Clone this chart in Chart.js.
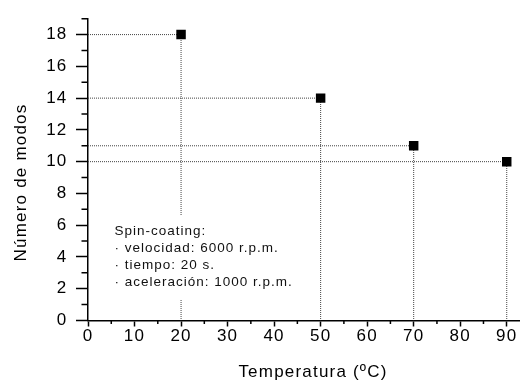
<!DOCTYPE html>
<html><head><meta charset="utf-8">
<script src="https://cdn.jsdelivr.net/npm/chart.js@4"></script>
<style>html,body{margin:0;padding:0;background:#fff;} canvas{display:block;}</style>
</head><body>
<canvas id="c" width="526" height="380"></canvas>
<script>
const temperatures = [20, 50, 70, 90];
const modes = [18, 14, 11, 10];
const xTickValues = [0, 10, 20, 30, 40, 50, 60, 70, 80, 90];
const xMinorTickValues = [5, 15, 25, 35, 45, 55, 65, 75, 85];
const yTickValues = [0, 2, 4, 6, 8, 10, 12, 14, 16, 18];
const yMinorTickValues = [1, 3, 5, 7, 9, 11, 13, 15, 17, 19];
const xTitle = 'Temperatura (ºC)';
const yTitle = 'Número de modos';
const noteLines = ['Spin-coating:', '· velocidad: 6000 r.p.m.', '· tiempo: 20 s.', '· aceleración: 1000 r.p.m.'];

const FONT = '"Liberation Sans", Arial, Helvetica, sans-serif';

const points = temperatures.map((t, i) => ({x: t, y: modes[i]}));
const dropStyle = {
  showLine: true, borderColor: '#444', borderWidth: 1, borderDash: [1, 1],
  pointRadius: 0, pointHoverRadius: 0, fill: false, order: 2
};
const hLines = temperatures.map((t, i) => Object.assign({
  data: [{x: 0, y: modes[i]}, {x: t, y: modes[i]}]
}, dropStyle));
const vLines = temperatures.map((t, i) => Object.assign({
  data: [{x: t, y: 0}, {x: t, y: modes[i]}]
}, dropStyle, {borderDashOffset: 0.5}));

const extrasPlugin = {
  id: 'extras',
  beforeDraw(chart) {
    chart.ctx.letterSpacing = '1.2px';
  },
  afterDatasetsDraw(chart) {
    const ctx = chart.ctx;
    ctx.save();
    ctx.fillStyle = '#fff';
    ctx.fillRect(108, 215, 200, 84);
    ctx.letterSpacing = '1px';
    ctx.font = '13.5px ' + FONT;
    ctx.fillStyle = '#111';
    ctx.textAlign = 'left';
    ctx.textBaseline = 'alphabetic';
    noteLines.forEach((s, i) => ctx.fillText(s, 114.5, 234.5 + i * 17.2));
    ctx.restore();
  },
  afterDraw(chart) {
    const ctx = chart.ctx;
    const xs = chart.scales.x, ys = chart.scales.y, ca = chart.chartArea;
    ctx.save();
    ctx.letterSpacing = '0px';
    ctx.strokeStyle = '#000';
    ctx.lineWidth = 1.5;
    ctx.beginPath();
    yMinorTickValues.forEach(v => {
      const py = ys.getPixelForValue(v);
      ctx.moveTo(ca.left - 6.5, py); ctx.lineTo(ca.left, py);
    });
    xMinorTickValues.forEach(v => {
      const px = xs.getPixelForValue(v);
      ctx.moveTo(px, ca.bottom); ctx.lineTo(px, ca.bottom + 3.5);
    });
    ctx.stroke();
    ctx.letterSpacing = '1.2px';
    ctx.font = '17px ' + FONT;
    ctx.fillStyle = '#000';
    ctx.textAlign = 'center';
    ctx.textBaseline = 'alphabetic';
    ctx.fillText(xTitle, 313, 377);
    ctx.translate(26, 182.5);
    ctx.rotate(-Math.PI / 2);
    ctx.fillText(yTitle, 0, 0);
    ctx.restore();
  }
};

new Chart(document.getElementById('c'), {
  type: 'scatter',
  data: {
    datasets: [{
      data: points,
      pointStyle: 'rect',
      pointRadius: 6.7,
      pointHoverRadius: 6.7,
      backgroundColor: '#000',
      borderColor: '#000',
      borderWidth: 0,
      order: 0
    }].concat(hLines, vLines)
  },
  options: {
    responsive: false,
    animation: false,
    devicePixelRatio: 1,
    layout: {padding: {top: 16.5, right: 0, left: 0, bottom: 0}},
    plugins: {legend: {display: false}, tooltip: {enabled: false}},
    scales: {
      x: {
        type: 'linear', min: 0, max: 92.7,
        afterBuildTicks: s => { s.ticks = xTickValues.map(v => ({value: v})); },
        afterFit: s => { s.height = 59.5; },
        grid: {display: true, drawOnChartArea: false, drawTicks: true, tickLength: 6, tickColor: '#000', tickWidth: 1.5},
        border: {display: true, color: '#000', width: 1.5},
        ticks: {color: '#000', font: {family: FONT, size: 17}, padding: 0, maxRotation: 0, autoSkip: false}
      },
      y: {
        type: 'linear', min: 0, max: 19,
        afterBuildTicks: s => { s.ticks = yTickValues.map(v => ({value: v})); },
        afterFit: s => { s.width = 88; },
        grid: {display: true, drawOnChartArea: false, drawTicks: true, tickLength: 12, tickColor: '#000', tickWidth: 1.5},
        border: {display: true, color: '#000', width: 1.5},
        ticks: {color: '#000', font: {family: FONT, size: 17}, padding: 8.5, autoSkip: false}
      }
    }
  },
  plugins: [extrasPlugin]
});
</script>
</body></html>
